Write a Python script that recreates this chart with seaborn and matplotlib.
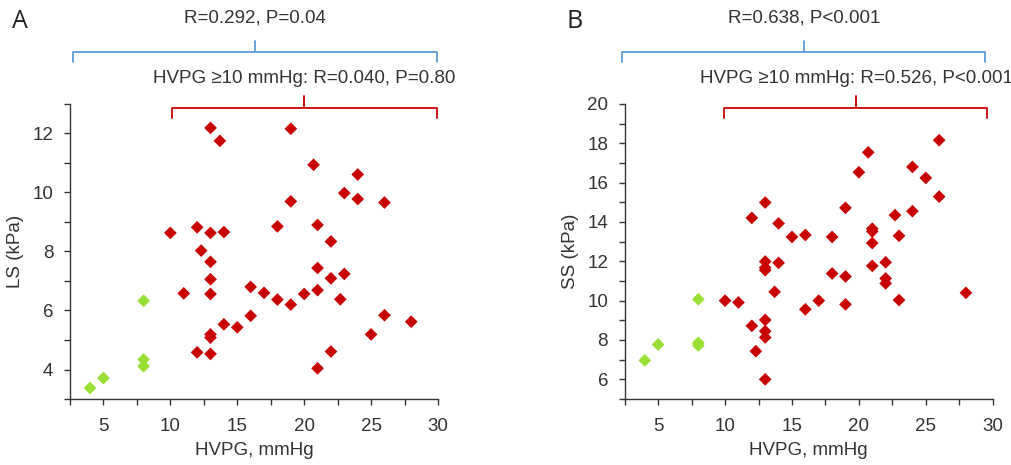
import numpy as np
import pandas as pd
import matplotlib
matplotlib.use("Agg")
import matplotlib.pyplot as plt
import matplotlib.transforms as mtransforms
from matplotlib.ticker import MultipleLocator
import seaborn as sns

# ---- Data ----
ls_green_x = [4, 5, 8, 8, 8]
ls_green_y = [3.37, 3.71, 6.33, 4.34, 4.11]
ls_red_x = [13, 13.7, 19, 20.7, 24, 23, 24, 19, 26, 10, 12, 13, 14, 18, 21, 22,
            12.3, 13, 13, 21, 23, 22, 11, 13, 16, 17, 20, 21, 18, 19, 22.7, 16,
            26, 28, 14, 15, 13, 13, 25, 12, 13, 22, 21]
ls_red_y = [12.19, 11.75, 12.16, 10.94, 10.61, 9.98, 9.78, 9.70, 9.66, 8.63, 8.82,
            8.63, 8.66, 8.85, 8.90, 8.34, 8.03, 7.65, 7.06, 7.44, 7.24, 7.09, 6.58,
            6.56, 6.80, 6.60, 6.56, 6.69, 6.37, 6.20, 6.38, 5.82, 5.84, 5.62, 5.53,
            5.43, 5.19, 5.08, 5.19, 4.58, 4.53, 4.61, 4.04]

ss_green_x = [4, 5, 8, 8, 8]
ss_green_y = [6.96, 7.77, 10.07, 7.86, 7.72]
ss_red_x = [26, 20.7, 20, 24, 25, 26, 13, 19, 24, 22.7, 12, 14, 15, 16, 18, 21,
            21, 23, 21, 13, 13, 13, 14, 22, 21, 18, 19, 22, 22, 13.7, 28, 10, 11,
            17, 23, 16, 19, 13, 12, 13, 13, 12.3, 13]
ss_red_y = [18.16, 17.54, 16.53, 16.80, 16.24, 15.29, 14.99, 14.72, 14.55, 14.35,
            14.21, 13.93, 13.24, 13.34, 13.24, 13.66, 13.52, 13.30, 12.93, 11.99,
            11.68, 11.55, 11.92, 11.95, 11.77, 11.38, 11.23, 11.13, 10.88, 10.45,
            10.40, 10.0, 9.91, 10.0, 10.03, 9.56, 9.81, 9.02, 8.72, 8.45, 8.13,
            7.43, 6.0]

x_label = "HVPG, mmHg"
ls_label = "LS (kPa)"
ss_label = "SS (kPa)"
panel_labels = ["A", "B"]
overall_texts = ["R=0.292, P=0.04", "R=0.638, P<0.001"]
sub_texts = ["HVPG \u226510 mmHg: R=0.040, P=0.80", "HVPG \u226510 mmHg: R=0.526, P<0.001"]

GREEN = "#9ADF33"
RED = "#C90000"
BLUE = "#5B9BD5"
TXT = "#333333"

sns.set_theme(style="ticks")
plt.rcParams["font.family"] = ["Liberation Sans", "DejaVu Sans"]
plt.rcParams["text.color"] = TXT
plt.rcParams["axes.labelcolor"] = TXT
plt.rcParams["xtick.color"] = TXT
plt.rcParams["ytick.color"] = TXT
plt.rcParams["axes.edgecolor"] = TXT


def make_df(gx, gy, rx, ry):
    return pd.DataFrame({
        "x": list(gx) + list(rx),
        "y": list(gy) + list(ry),
        "grp": ["low"] * len(gx) + ["high"] * len(rx),
    })


fig = plt.figure(figsize=(10.12, 4.65), dpi=100)
axA = fig.add_axes([70 / 1012, 66 / 465, 368 / 1012, 295 / 465])
axB = fig.add_axes([624.7 / 1012, 66 / 465, 368 / 1012, 295 / 465])

panels = [
    (axA, make_df(ls_green_x, ls_green_y, ls_red_x, ls_red_y), ls_label, (3, 13), [4, 6, 8, 10, 12],
     (2.72, 29.9), (10.1, 29.9), (16.3, 20.0)),
    (axB, make_df(ss_green_x, ss_green_y, ss_red_x, ss_red_y), ss_label, (5, 20), [6, 8, 10, 12, 14, 16, 18, 20],
     (2.3, 29.4), (9.9, 29.6), (15.9, 19.8)),
]

for i, (ax, df, ylab, ylim, yticks, blue_rng, red_rng, centers) in enumerate(panels):
    sns.scatterplot(data=df, x="x", y="y", hue="grp", palette={"low": GREEN, "high": RED},
                    marker="D", s=42, linewidth=0, ax=ax, legend=False, clip_on=False, zorder=3)
    ax.set_xlim(2.5, 30)
    ax.set_ylim(*ylim)
    ax.set_xticks([5, 10, 15, 20, 25, 30])
    ax.xaxis.set_minor_locator(MultipleLocator(2.5))
    ax.set_yticks(yticks)
    ax.yaxis.set_minor_locator(MultipleLocator(1))
    ax.tick_params(axis="x", which="major", direction="out", length=4, width=1.0, labelsize=13.5, pad=10)
    ax.tick_params(axis="y", which="major", direction="out", length=4, width=1.0, labelsize=13.5, pad=8)
    ax.tick_params(axis="both", which="minor", direction="out", length=4, width=1.0)
    for sp in ["top", "right"]:
        ax.spines[sp].set_visible(False)
    for sp in ["left", "bottom"]:
        ax.spines[sp].set_linewidth(1.0)
    ax.set_xlabel(x_label, fontsize=13.5, labelpad=5)
    ax.set_ylabel(ylab, fontsize=13.5, labelpad=6)

    trans = mtransforms.blended_transform_factory(ax.transData, ax.transAxes)
    # blue bracket (overall)
    b0, b1 = blue_rng
    ax.plot([b0, b0, b1, b1], [1.142, 1.176, 1.176, 1.142], color=BLUE, lw=1.3,
            transform=trans, clip_on=False, solid_joinstyle="round")
    ax.plot([centers[0], centers[0]], [1.176, 1.212], color=BLUE, lw=1.3,
            transform=trans, clip_on=False)
    ax.text(centers[0], 1.29, overall_texts[i], transform=trans, ha="center", va="center",
            fontsize=13.5, color=TXT)
    # red bracket (HVPG >= 10)
    r0, r1 = red_rng
    ax.plot([r0, r0, r1, r1], [0.953, 0.986, 0.986, 0.953], color=RED, lw=1.3,
            transform=trans, clip_on=False, solid_joinstyle="round")
    ax.plot([centers[1], centers[1]], [0.986, 1.027], color=RED, lw=1.3,
            transform=trans, clip_on=False)
    ax.text(centers[1], 1.085, sub_texts[i], transform=trans, ha="center", va="center",
            fontsize=13.5, color=TXT)

fig.text(12 / 1012, 1 - 21 / 465, panel_labels[0], fontsize=18, color="#222222", ha="left", va="center",
         family=["Open Sans", "DejaVu Sans"])
fig.text(567 / 1012, 1 - 21 / 465, panel_labels[1], fontsize=18, color="#222222", ha="left", va="center",
         family=["Open Sans", "DejaVu Sans"])

fig.savefig("out.png", dpi=100)
